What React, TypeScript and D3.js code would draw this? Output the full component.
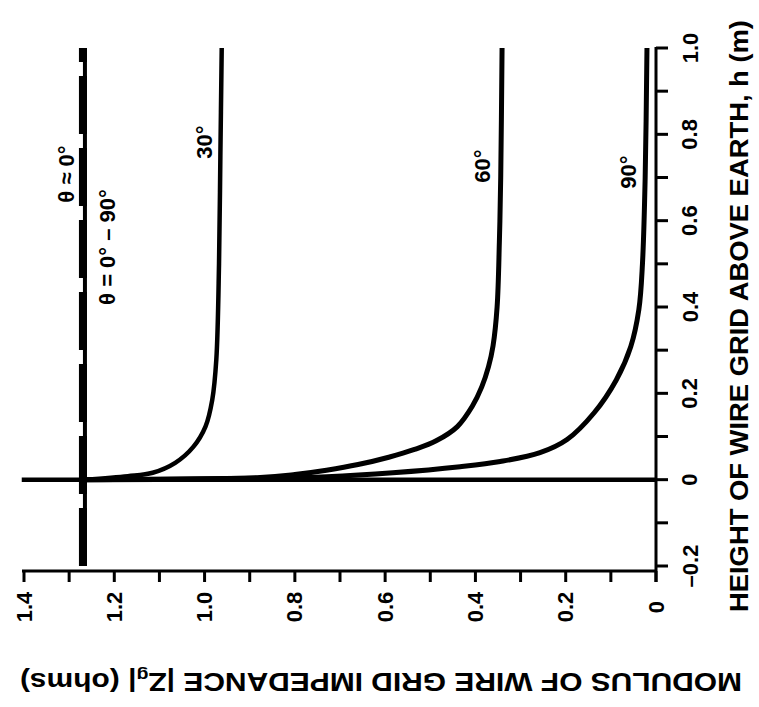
import React from "react";
import * as d3 from "d3";

// Height of wire grid above earth, h (m) — plotted vertically (chart rotated 90° CCW)
const hTickValues = [-0.2, 0, 0.2, 0.4, 0.6, 0.8, 1.0];
const hTickLabels = ["\u20130.2", "0", "0.2", "0.4", "0.6", "0.8", "1.0"];
// Modulus |Zg| (ohms) — plotted horizontally, decreasing to the right
const zTickValues = [1.4, 1.2, 1.0, 0.8, 0.6, 0.4, 0.2, 0];
const zTickLabels = ["1.4", "1.2", "1.0", "0.8", "0.6", "0.4", "0.2", "0"];

// theta ≈ 0° (and all angles below ground)
const hTheta0 = [-0.2, 1.0];
const zTheta0 = [1.265, 1.265];

// h = 0 reference line
const hZero = [0, 0];
const zZero = [0, 1.405];

const h30 = [0, 0.008, 0.016, 0.039, 0.076, 0.123, 0.185, 0.278, 0.5, 0.75, 1.0];
const z30 = [1.265, 1.17, 1.115, 1.065, 1.025, 0.998, 0.983, 0.974, 0.968, 0.965, 0.962];

const h60 = [0, 0.005, 0.012, 0.022, 0.035, 0.052, 0.07, 0.09, 0.123, 0.17, 0.215, 0.262, 0.31, 0.4, 0.55, 0.7, 1.0];
const z60 = [1.265, 0.877, 0.8, 0.73, 0.66, 0.592, 0.535, 0.487, 0.44, 0.407, 0.386, 0.371, 0.361, 0.352, 0.347, 0.344, 0.341];

const h90 = [0, 0.003, 0.007, 0.016, 0.03, 0.042, 0.0625, 0.093, 0.155, 0.231, 0.308, 0.394, 0.5, 0.7, 1.0];
const z90 = [1.265, 0.9, 0.729, 0.583, 0.434, 0.345, 0.257, 0.197, 0.137, 0.088, 0.056, 0.038, 0.03, 0.024, 0.02];

const FONT = "'Liberation Sans', Arial, Helvetica, sans-serif";

export default function App() {
  const hScale = d3.scaleLinear().domain([-0.2, 1.0]).range([566, 48]);
  const zScale = d3.scaleLinear().domain([0, 1.4]).range([656, 24]);

  const line = d3
    .line<[number, number]>()
    .x((d) => zScale(d[1]))
    .y((d) => hScale(d[0]))
    .curve(d3.curveCatmullRom.alpha(0.5));
  const straight = d3
    .line<[number, number]>()
    .x((d) => zScale(d[1]))
    .y((d) => hScale(d[0]));

  const zip = (a: number[], b: number[]) => a.map((v, i) => [v, b[i]] as [number, number]);

  const axisY = hScale(-0.2) + 5;
  const axisX = zScale(0);
  const zMinor = d3.range(0, 15).map((i) => i / 10);
  const hMinor = d3.range(-2, 11).map((i) => i / 10);

  return (
    <div style={{ position: "absolute", left: 0, top: 0 }}>
      <svg width={759} height={707} style={{ display: "block", background: "#fff" }}>
        <g fill="none" stroke="#000" strokeLinecap="butt">
          {/* bottom (modulus) axis */}
          <line x1={zScale(1.4) - 2} x2={axisX} y1={axisY} y2={axisY} strokeWidth={3} />
          {zMinor.map((v) => (
            <line key={"zt" + v} x1={zScale(v)} x2={zScale(v)} y1={axisY} y2={axisY + 11} strokeWidth={3} />
          ))}
          {/* right (height) axis */}
          <line x1={axisX} x2={axisX} y1={hScale(1.0) - 1} y2={axisY + 11} strokeWidth={3} />
          {hMinor.map((v) => (
            <line key={"ht" + v} x1={axisX} x2={axisX + 12} y1={hScale(v)} y2={hScale(v)} strokeWidth={3} />
          ))}

          {/* h = 0 line */}
          <path d={straight(zip(hZero, zZero)) || ""} strokeWidth={4.5} />

          {/* theta ≈ 0 line: thin solid + thick dashes */}
          <path d={straight(zip(hTheta0, zTheta0)) || ""} strokeWidth={4} />
          <path
            d={straight(zip(hTheta0, zTheta0)) || ""}
            strokeWidth={8}
            strokeDasharray="58 14"
            transform="translate(-2,0)"
          />

          <path d={line(zip(h30, z30)) || ""} strokeWidth={4.5} />
          <path d={line(zip(h60, z60)) || ""} strokeWidth={5} />
          <path d={line(zip(h90, z90)) || ""} strokeWidth={5} />
        </g>

        <g fontFamily={FONT} fontWeight="bold" fill="#000">
          {zTickValues.map((v, i) => (
            <text
              key={"zl" + v}
              x={zScale(v)}
              y={607}
              fontSize={22}
              textAnchor="middle"
              dominantBaseline="central"
              transform={`rotate(-90, ${zScale(v)}, 607)`}
            >
              {zTickLabels[i]}
            </text>
          ))}
          {hTickValues.map((v, i) => (
            <text
              key={"hl" + v}
              x={690}
              y={hScale(v)}
              fontSize={22}
              textAnchor="middle"
              dominantBaseline="central"
              transform={`rotate(-90, 690, ${hScale(v)})`}
            >
              {hTickLabels[i]}
            </text>
          ))}

          <text
            x={739}
            y={316}
            fontSize={26}
            textAnchor="middle"
            dominantBaseline="central"
            textLength={592}
            lengthAdjust="spacingAndGlyphs"
            transform="rotate(-90, 739, 316)"
          >
            HEIGHT OF WIRE GRID ABOVE EARTH, h (m)
          </text>

          <g transform="rotate(180, 381, 682)">
            <text
              x={381}
              y={682}
              fontSize={26}
              textAnchor="middle"
              dominantBaseline="central"
              textLength={722}
              lengthAdjust="spacingAndGlyphs"
            >
              MODULUS OF WIRE GRID IMPEDANCE |Z
              <tspan fontSize={17} dy={6}>g</tspan>
              <tspan dy={-6}>| (ohms)</tspan>
            </text>
          </g>

          {/* curve labels */}
          <text x={66} y={174} fontSize={22} textAnchor="middle" dominantBaseline="central" transform="rotate(-90, 66, 174)">
            θ ≈ 0°
          </text>
          <text x={107} y={247} fontSize={22} textAnchor="middle" dominantBaseline="central" transform="rotate(-90, 107, 247)">
            θ = 0° – 90°
          </text>
          <text x={204} y={142} fontSize={22} textAnchor="middle" dominantBaseline="central" transform="rotate(-90, 204, 142)">
            30°
          </text>
          <text x={482} y={166} fontSize={22} textAnchor="middle" dominantBaseline="central" transform="rotate(-90, 482, 166)">
            60°
          </text>
          <text x={628} y={172} fontSize={22} textAnchor="middle" dominantBaseline="central" transform="rotate(-90, 628, 172)">
            90°
          </text>
        </g>
      </svg>
    </div>
  );
}
